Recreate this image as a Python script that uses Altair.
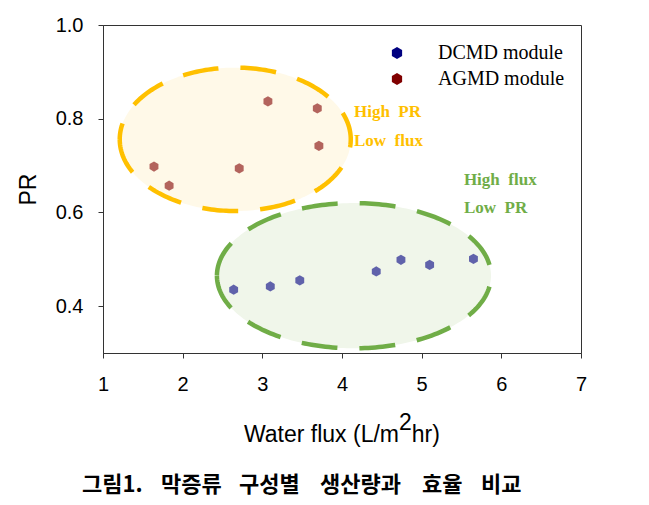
import altair as alt
import numpy as np
import pandas as pd

# Measured permeate flux (L/m2hr) and PR for each module type
dcmd_flux = [2.64, 3.10, 3.47, 4.43, 4.74, 5.10, 5.65]
dcmd_pr = [0.435, 0.442, 0.455, 0.474, 0.499, 0.488, 0.501]
agmd_flux = [1.64, 1.83, 2.71, 3.07, 3.69, 3.71]
agmd_pr = [0.698, 0.657, 0.694, 0.837, 0.822, 0.742]

module_names = ["DCMD module", "AGMD module"]
module_colors = ["#000080", "#800000"]

x_ticks = [1, 2, 3, 4, 5, 6, 7]
y_ticks = [0.4, 0.6, 0.8, 1.0]

# Highlighted operating regions (ellipse centre and radii in data units)
region_cx = [2.66, 4.15]
region_cy = [0.756, 0.465]
region_rx = [1.45, 1.72]
region_ry = [0.153, 0.155]
region_fill = ["#FFF9E8", "#F0F6EA"]
region_stroke = ["#FFC000", "#70AD47"]

# Region notes
note_text = ["High\u00a0\u00a0PR", "Low\u00a0\u00a0flux", "High\u00a0\u00a0flux", "Low\u00a0\u00a0PR"]
note_flux = [4.15, 4.15, 5.53, 5.53]
note_pr = [0.804, 0.742, 0.659, 0.598]
note_color = ["#FFC000", "#FFC000", "#70AD47", "#70AD47"]

# Figure caption, word by word with its left offset (px from plot origin)
caption_words = ["그림1.", "막증류", "구성별", "생산량과", "효율", "비교"]
caption_left = [-21, 58, 136, 217, 319, 378]

W, H = 478, 328
hexagon = "M0,-1L0.866,-0.5L0.866,0.5L0,1L-0.866,0.5L-0.866,-0.5Z"

x_scale = alt.Scale(domain=[1, 7], nice=False, zero=False)
y_scale = alt.Scale(domain=[0.3, 1.0], nice=False, zero=False)
x_axis = alt.Axis(values=x_ticks, title=None, format="d", labelFlush=False,
                  labelOverlap=False, grid=False, tickSize=5, labelPadding=16)
y_axis = alt.Axis(values=y_ticks, title="PR", format=".1f", labelFlush=False,
                  labelOverlap=False, grid=False, tickSize=5, labelPadding=15,
                  titlePadding=15)

layers = []

# Ellipse fills and dashed outlines
for cx, cy, rx, ry, fill, stroke in zip(region_cx, region_cy, region_rx, region_ry,
                                         region_fill, region_stroke):
    t_half = np.linspace(0, np.pi, 121)
    fill_df = pd.DataFrame({
        "flux": cx + rx * np.cos(t_half),
        "pr": cy + ry * np.sin(t_half),
        "pr2": cy - ry * np.sin(t_half),
    })
    t_full = np.linspace(0, 2 * np.pi, 241)
    ring_df = pd.DataFrame({
        "flux": cx + rx * np.cos(t_full + np.pi),
        "pr": cy + ry * np.sin(t_full + np.pi),
        "step": np.arange(len(t_full)),
    })
    layers.append(
        alt.Chart(fill_df).mark_area(color=fill, opacity=1).encode(
            x=alt.X("flux:Q", scale=x_scale, axis=x_axis),
            y=alt.Y("pr:Q", scale=y_scale, axis=y_axis),
            y2="pr2:Q",
        )
    )
    layers.append(
        alt.Chart(ring_df).mark_line(color=stroke, strokeWidth=4.5,
                                     strokeDash=[36, 22]).encode(
            x=alt.X("flux:Q", scale=x_scale, axis=x_axis),
            y=alt.Y("pr:Q", scale=y_scale, axis=y_axis),
            order="step:Q",
        )
    )

points = pd.DataFrame({
    "flux": dcmd_flux + agmd_flux,
    "pr": dcmd_pr + agmd_pr,
    "module": [module_names[0]] * len(dcmd_flux) + [module_names[1]] * len(agmd_flux),
})

layers.append(
    alt.Chart(points).mark_point(filled=True, shape=hexagon, size=105,
                                 opacity=0.6, strokeWidth=0).encode(
        x=alt.X("flux:Q", scale=x_scale, axis=x_axis),
        y=alt.Y("pr:Q", scale=y_scale, axis=y_axis),
        color=alt.Color(
            "module:N",
            scale=alt.Scale(domain=module_names, range=module_colors),
            sort=module_names,
            legend=alt.Legend(
                title=None, orient="none", legendX=284, legendY=18,
                symbolType=hexagon, symbolSize=140, symbolOpacity=1,
                symbolStrokeWidth=0,
                labelFont="Liberation Serif", labelFontSize=20,
                labelColor="black", labelOffset=31, rowPadding=6, padding=0,
            ),
        ),
    )
)

notes = pd.DataFrame({"flux": note_flux, "pr": note_pr, "text": note_text,
                      "color": note_color})
layers.append(
    alt.Chart(notes).mark_text(font="Liberation Serif", fontSize=17,
                               fontWeight="bold", align="left",
                               baseline="alphabetic").encode(
        x=alt.X("flux:Q", scale=x_scale, axis=x_axis),
        y=alt.Y("pr:Q", scale=y_scale, axis=y_axis),
        text="text:N",
        color=alt.Color("color:N", scale=None),
    )
)

# X-axis title with a raised "2"
one_row = alt.Data(values=[{}])
title_font = dict(font="Liberation Sans", fontSize=23, color="black",
                  baseline="alphabetic")
layers.append(alt.Chart(one_row).mark_text(text="Water flux (L/m", align="right",
                                           **title_font).encode(
    x=alt.value(296), y=alt.value(417)))
layers.append(alt.Chart(one_row).mark_text(text="2", align="left",
                                           **title_font).encode(
    x=alt.value(296), y=alt.value(405)))
layers.append(alt.Chart(one_row).mark_text(text="hr)", align="left",
                                           **title_font).encode(
    x=alt.value(308.8), y=alt.value(417)))

# Figure caption below the axis title
caption_df = pd.DataFrame({"word": caption_words, "left": caption_left})
layers.append(alt.Chart(caption_df).mark_text(
    font="Noto Sans CJK KR", fontSize=22, fontWeight="bold", color="black",
    align="left", baseline="middle").encode(
    x=alt.X("left:Q", scale=None, axis=None),
    y=alt.value(460),
    text="word:N"))

chart = alt.layer(*layers).properties(
    width=W, height=H,
    autosize=alt.AutoSizeParams(type="none"),
    padding={"left": 103, "top": 25, "right": 68, "bottom": 152},
).configure_view(
    stroke="#333333", strokeWidth=1
).configure_axis(
    labelFont="Liberation Sans", labelFontSize=20, labelColor="black",
    titleFont="Liberation Sans", titleFontSize=23, titleFontWeight="normal",
    titleColor="black", domainColor="#333333", tickColor="#333333",
)

chart.save("out.html", embed_options={"renderer": "svg", "actions": False})
